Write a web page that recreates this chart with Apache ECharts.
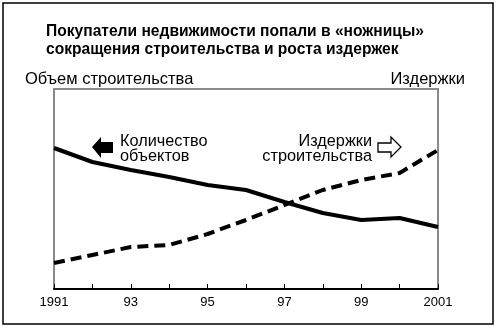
<!DOCTYPE html>
<html>
<head>
<meta charset="utf-8">
<script src="https://cdn.jsdelivr.net/npm/echarts@6/dist/echarts.min.js"></script>
<style>
html,body{margin:0;padding:0;background:#fff;}
#c{width:498px;height:328px;}
</style>
</head>
<body>
<div id="c"></div>
<script>
var years = [1991, 1992, 1993, 1994, 1995, 1996, 1997, 1998, 1999, 2000, 2001];
var tickLabels = {1991: '1991', 1993: '93', 1995: '95', 1997: '97', 1999: '99', 2001: '2001'};
var volume = [70.5, 63.5, 59.5, 56, 52, 49.5, 43.5, 38, 34.5, 35.5, 31];
var costs = [13, 17, 21, 22, 27.5, 34.5, 42, 49.5, 54.5, 58, 69.5];

var FONT = '"Liberation Sans", Arial, Helvetica, sans-serif';
function pairs(arr) { return years.map(function (y, i) { return [y, arr[i]]; }); }

var chart = echarts.init(document.getElementById('c'), null, {renderer: 'canvas'});
chart.setOption({
  animation: false,
  backgroundColor: '#fff',
  title: {
    text: 'Покупатели недвижимости попали в «ножницы»\nсокращения строительства и роста издержек',
    left: 41, top: 18,
    textStyle: {fontFamily: FONT, fontSize: 15.6, fontWeight: 'bold', color: '#000', lineHeight: 18}
  },
  grid: {left: 54, right: 60, top: 89, bottom: 39, show: true, borderColor: '#8a8a8a', borderWidth: 2, backgroundColor: 'transparent'},
  xAxis: {
    type: 'value', min: 1991, max: 2001, interval: 1,
    axisLine: {show: true, onZero: false, lineStyle: {color: '#000', width: 2}},
    axisTick: {show: true, inside: true, length: 5, lineStyle: {color: '#000', width: 1}},
    axisLabel: {
      fontFamily: FONT, fontSize: 13, color: '#000', margin: 7,
      formatter: function (v) { return tickLabels[v] || ''; }
    },
    splitLine: {show: false}
  },
  yAxis: [
    {type: 'value', min: 0, max: 100, show: false, splitLine: {show: false}},
    {type: 'value', min: 0, max: 100, show: false, splitLine: {show: false}}
  ],
  series: [
    {name: 'Количество объектов', type: 'line', yAxisIndex: 0, data: pairs(volume), symbol: 'none',
     lineStyle: {color: '#000', width: 4, type: 'solid', join: 'round'}},
    {name: 'Издержки строительства', type: 'line', yAxisIndex: 1, data: pairs(costs), symbol: 'none',
     lineStyle: {color: '#000', width: 4, type: [11, 6]}}
  ],
  graphic: [
    {type: 'rect', shape: {x: 3, y: 3, width: 490, height: 321}, style: {fill: 'none', stroke: '#000', lineWidth: 1.5}, silent: true},
    {type: 'text', left: 25, top: 71, style: {text: 'Объем строительства', font: '16.5px ' + FONT, fill: '#000'}},
    {type: 'text', right: 33, top: 71, style: {text: 'Издержки', font: '16.5px ' + FONT, fill: '#000', textAlign: 'right'}},
    {type: 'polygon', shape: {points: [[92, 147], [101, 137], [101, 142], [113, 142], [113, 153], [101, 153], [101, 158]]}, style: {fill: '#000'}},
    {type: 'text', left: 120, top: 134, style: {text: 'Количество\nобъектов', font: '16.3px ' + FONT, fill: '#000', lineHeight: 15}},
    {type: 'polygon', shape: {points: [[378, 143], [391, 143], [391, 137], [401, 147], [391, 157], [391, 152], [378, 152]]}, style: {fill: '#fff', stroke: '#000', lineWidth: 1.3}},
    {type: 'text', right: 126, top: 134, style: {text: 'Издержки\nстроительства', font: '16.3px ' + FONT, fill: '#000', lineHeight: 15, textAlign: 'right'}}
  ]
});
</script>
</body>
</html>
